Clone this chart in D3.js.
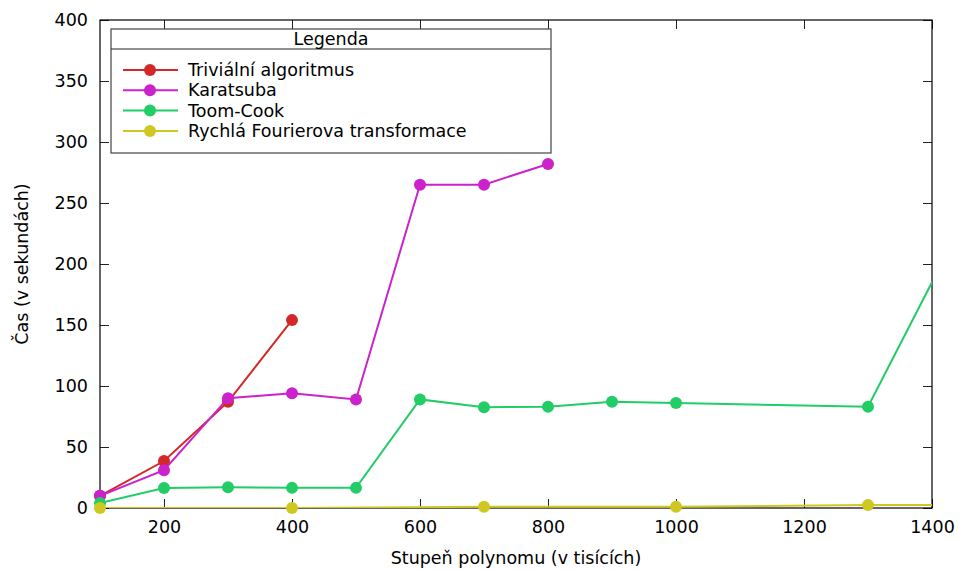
<!DOCTYPE html>
<html>
<head>
<meta charset="utf-8">
<script src="https://cdn.jsdelivr.net/npm/d3@7"></script>
<style>
  body { margin: 0; background: #fff; }
  svg { display: block; font-family: "DejaVu Sans", sans-serif; }
</style>
</head>
<body>
<svg id="chart" width="962" height="571"></svg>
<script>
// Polynomial degree (thousands) and run times (seconds) per algorithm
const trivialX = [100, 200, 300, 400];
const trivialY = [10, 38.5, 87, 154];
const karatsubaX = [100, 200, 300, 400, 500, 600, 700, 800];
const karatsubaY = [10, 31, 90, 94, 89, 265, 265, 282];
const toomX = [100, 200, 300, 400, 500, 600, 700, 800, 900, 1000, 1300, 1500];
const toomY = [4, 16.4, 17, 16.5, 16.5, 89, 82.5, 83, 87, 86, 83, 287];
const fftX = [100, 400, 700, 1000, 1300, 1500];
const fftY = [0, 0, 1, 1, 2.5, 2.5];

const seriesNames = ["Triviální algoritmus", "Karatsuba", "Toom-Cook", "Rychlá Fourierova transformace"];
const seriesColors = ["#d42828", "#cc22cc", "#22cc66", "#cfc823"];

const xTicks = [200, 400, 600, 800, 1000, 1200, 1400];
const yTicks = [0, 50, 100, 150, 200, 250, 300, 350, 400];

const series = [
  { name: seriesNames[0], color: seriesColors[0], xs: trivialX, ys: trivialY },
  { name: seriesNames[1], color: seriesColors[1], xs: karatsubaX, ys: karatsubaY },
  { name: seriesNames[2], color: seriesColors[2], xs: toomX, ys: toomY },
  { name: seriesNames[3], color: seriesColors[3], xs: fftX, ys: fftY }
];

const FS = 17.5;
const svg = d3.select("#chart");
const m = { left: 100, right: 30, top: 20, bottom: 63 };
const W = 962, H = 571;
const x = d3.scaleLinear().domain([100, 1400]).range([m.left, W - m.right]);
const y = d3.scaleLinear().domain([0, 400]).range([H - m.bottom, m.top]);
const x0 = x.range()[0], x1 = x.range()[1], y0 = y.range()[0], y1 = y.range()[1];

svg.append("defs").append("clipPath").attr("id", "plotclip")
  .append("rect").attr("x", x0).attr("y", y1).attr("width", x1 - x0).attr("height", y0 - y1);

const tickLen = 9;
const fmt = d3.format("d");
// Axes: bottom and left carry labels, top and right mirror the ticks
const axB = svg.append("g").attr("transform", `translate(0,${y0})`)
  .call(d3.axisBottom(x).tickValues(xTicks).tickSize(-tickLen).tickPadding(13).tickFormat(fmt));
const axT = svg.append("g").attr("transform", `translate(0,${y1})`)
  .call(d3.axisTop(x).tickValues(xTicks).tickSize(-tickLen).tickFormat(""));
const axL = svg.append("g").attr("transform", `translate(${x0},0)`)
  .call(d3.axisLeft(y).tickValues(yTicks).tickSize(-tickLen).tickPadding(12).tickFormat(fmt));
const axR = svg.append("g").attr("transform", `translate(${x1},0)`)
  .call(d3.axisRight(y).tickValues(yTicks).tickSize(-tickLen).tickFormat(""));
[axB, axT, axL, axR].forEach(g => {
  g.select(".domain").remove();
  g.selectAll(".tick line").attr("stroke", "#222").attr("stroke-width", 1);
  g.selectAll("text").attr("font-size", FS).attr("font-family", "DejaVu Sans").attr("fill", "#000");
});

// Plot frame
svg.append("rect").attr("x", x0).attr("y", y1).attr("width", x1 - x0).attr("height", y0 - y1)
  .attr("fill", "none").attr("stroke", "#000").attr("stroke-width", 1.2);

// Axis titles
svg.append("text").attr("x", (x0 + x1) / 2).attr("y", 564).attr("text-anchor", "middle")
  .attr("font-size", FS).text("Stupeň polynomu (v tisících)");
svg.append("text").attr("transform", `translate(28,${(y0 + y1) / 2}) rotate(-90)`)
  .attr("text-anchor", "middle").attr("font-size", FS).text("Čas (v sekundách)");

// Series lines (clipped to the plot) and markers, later series on top
const plot = svg.append("g");
const line = d3.line().x(d => x(d[0])).y(d => y(d[1]));
series.forEach(s => {
  const pts = s.xs.map((v, i) => [v, s.ys[i]]);
  plot.append("path").attr("d", line(pts)).attr("fill", "none").attr("clip-path", "url(#plotclip)")
    .attr("stroke", s.color).attr("stroke-width", 2);
  plot.selectAll(null).data(pts.filter(p => p[0] <= 1400)).enter().append("circle")
    .attr("cx", p => x(p[0])).attr("cy", p => y(p[1])).attr("r", 6).attr("fill", s.color);
});

// Legend box
const lg = svg.append("g");
const lx = 111, ly = 29, lw = 440, lh = 124;
lg.append("rect").attr("x", lx).attr("y", ly).attr("width", lw).attr("height", lh)
  .attr("fill", "#fff").attr("stroke", "#444").attr("stroke-width", 1.2);
lg.append("line").attr("x1", lx).attr("x2", lx + lw).attr("y1", ly + 20).attr("y2", ly + 20)
  .attr("stroke", "#222").attr("stroke-width", 1.2);
lg.append("text").attr("x", lx + lw / 2).attr("y", ly + 16).attr("text-anchor", "middle")
  .attr("font-size", FS).text("Legenda");
series.forEach((s, i) => {
  const yy = 70 + i * 20.3;
  lg.append("line").attr("x1", 123).attr("x2", 178).attr("y1", yy).attr("y2", yy)
    .attr("stroke", s.color).attr("stroke-width", 2);
  lg.append("circle").attr("cx", 150).attr("cy", yy).attr("r", 6).attr("fill", s.color);
  lg.append("text").attr("x", 188).attr("y", yy + 6).attr("font-size", FS).text(s.name);
});
</script>
</body>
</html>
